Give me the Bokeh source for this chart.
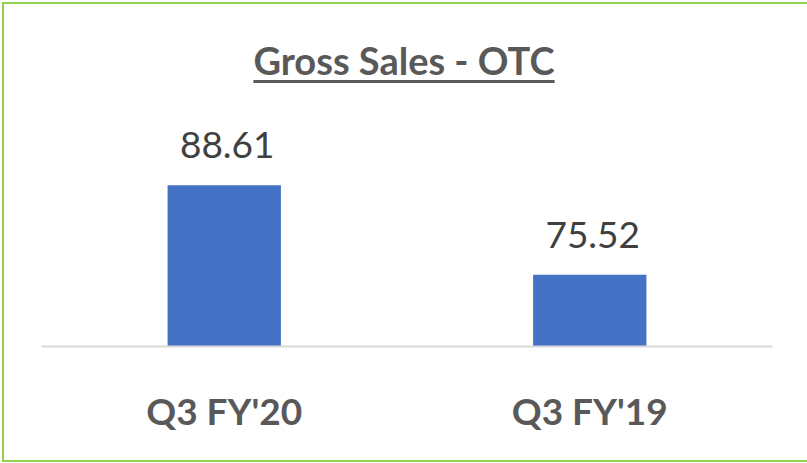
from bokeh.plotting import figure
from bokeh.models import ColumnDataSource, Div, LabelSet, FactorRange, Range1d
from bokeh.core.properties import value
from bokeh.layouts import column
from bokeh.embed import file_html
from bokeh.resources import INLINE

categories = ["Q3 FY'20", "Q3 FY'19"]
values = [88.61, 75.52]
value_labels = ["88.61", "75.52"]
title_text = "Gross Sales - OTC"
y_start = 65
y_end = 100

source = ColumnDataSource(data=dict(cat=categories, val=values, lab=value_labels))

title_div = Div(
    text=(
        '<div style="margin:0; padding-top:29px; padding-right:4px; text-align:center; width:804px; '
        'font-family:Lato; font-weight:bold; font-size:38px; color:#595959; '
        'text-decoration:underline; text-decoration-thickness:3px; '
        'text-underline-offset:5px;">' + title_text + '</div>'
    ),
    width=808, height=95, margin=0,
)

p = figure(
    x_range=FactorRange(*categories),
    y_range=Range1d(y_start, y_end),
    width=808, height=361,
    output_backend="svg", toolbar_location=None,
    min_border_left=37, min_border_right=40,
    min_border_top=8, min_border_bottom=114,
    margin=0,
)
p.vbar(x="cat", top="val", bottom=y_start, width=0.31, source=source,
       fill_color="#4472C4", line_color=None)

labels = LabelSet(x="cat", y="val", text="lab", source=source,
                  text_align="center", text_baseline="alphabetic",
                  y_offset=27, x_offset=3,
                  text_font=value("Lato"), text_font_size="37px", text_color="#404040")
p.add_layout(labels)

p.yaxis.visible = False
p.xgrid.visible = False
p.ygrid.visible = False
p.outline_line_color = None
p.xaxis.axis_line_color = "#D9D9D9"
p.xaxis.axis_line_width = 2
p.xaxis.major_tick_line_color = None
p.xaxis.minor_tick_line_color = None
p.xaxis.major_label_text_font = "Lato"
p.xaxis.major_label_text_font_style = "bold"
p.xaxis.major_label_text_font_size = "37px"
p.xaxis.major_label_text_color = "#595959"
p.xaxis.major_label_standoff = 35

layout = column(title_div, p, spacing=0,
                styles={"border-left": "2px solid #92D050",
                        "border-top": "2px solid #92D050",
                        "border-bottom": "2px solid #92D050",
                        "margin-left": "2px", "margin-top": "2px"})

open("out.html", "w").write(file_html(layout, INLINE))
